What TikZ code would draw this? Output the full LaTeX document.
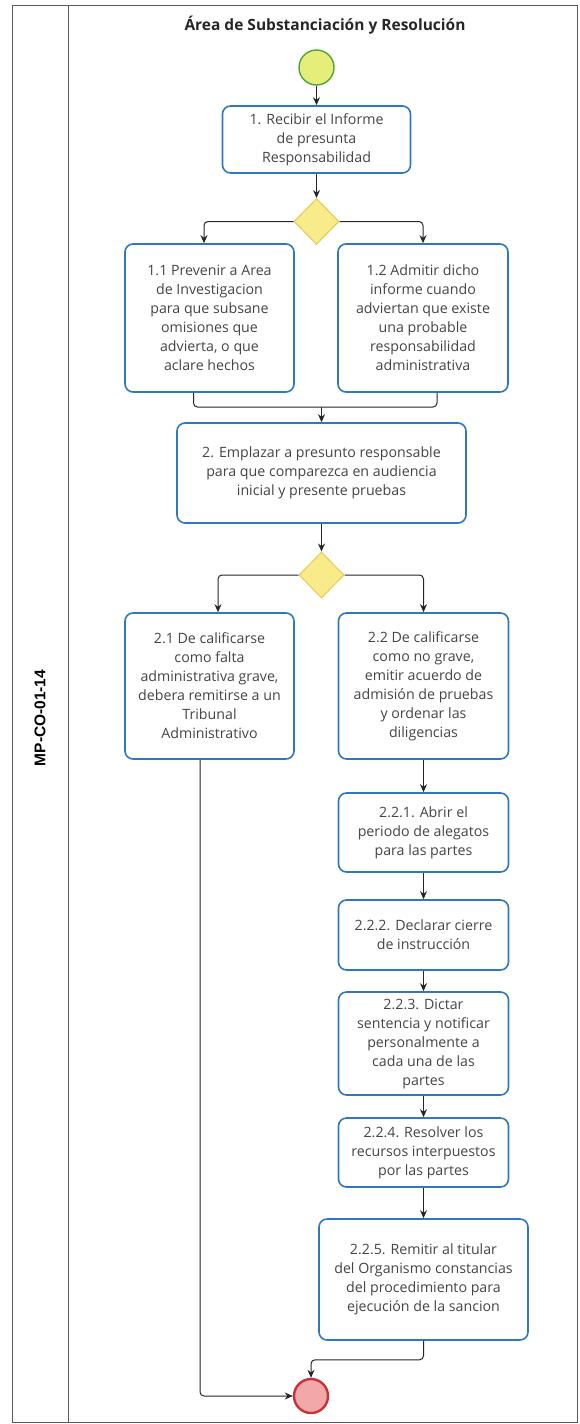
\documentclass[tikz,border=0pt]{standalone}
\usepackage{fontspec}
\setmainfont{Open Sans}
\newfontfamily\codefont{Liberation Sans}
\usetikzlibrary{arrows.meta,shapes.geometric}
\definecolor{boxblue}{HTML}{2F78C0}
\definecolor{txtgray}{HTML}{454545}
\definecolor{gatefill}{HTML}{F7EB8A}
\definecolor{gateedge}{HTML}{E2CB52}
\definecolor{startfill}{HTML}{E4EE78}
\definecolor{startedge}{HTML}{4FA33A}
\definecolor{endfill}{HTML}{F2A8A8}
\definecolor{endedge}{HTML}{C8323A}
\definecolor{framegray}{HTML}{5A5A5A}
\begin{document}
\begin{tikzpicture}[x=1pt,y=-1pt,
  box/.style={draw=boxblue, line width=1.6pt, rounded corners=8pt, fill=white,
    align=center, text=txtgray, inner sep=0pt, font=\fontsize{14.2}{19}\selectfont},
  gate/.style={diamond, draw=gateedge, fill=gatefill, line width=1pt,
    minimum width=45pt, minimum height=46pt, inner sep=0pt},
  startev/.style={circle, draw=startedge, fill=startfill, line width=1.4pt,
    minimum size=35pt, inner sep=0pt},
  endev/.style={circle, draw=endedge, fill=endfill, line width=2.4pt,
    minimum size=34pt, inner sep=0pt},
  flow/.style={draw=black!85, line width=1pt, rounded corners=4pt,
    -{Stealth[length=8pt,width=7pt]}},
  link/.style={draw=black!85, line width=1pt, rounded corners=4pt}]
  \useasboundingbox (0,0) rectangle (579,1424);
  % frame and lane
  \draw[framegray, line width=0.8pt] (12,5) rectangle (577,1422);
  \draw[framegray, line width=0.8pt] (68,5) -- (68,1422);
  \node[font=\bfseries\fontsize{15.5}{18}\selectfont, text=black!85] (titulo) at (325,25) {Área de Substanciación y Resolución};
  \node[rotate=90, font=\codefont\bfseries\fontsize{15.5}{18}\selectfont] (codigo) at (40,718) {MP-CO-01-14};
  % events and gateways
  \node[startev] (inicio) at (316.5,67.5) {};
  \node[gate] (gate1) at (316.5,221.5) {};
  \node[gate] (gate2) at (321.5,575) {};
  \node[endev] (fin) at (311,1396) {};
  % tasks
  \node[box, minimum width=188pt, minimum height=67pt] (recibir) at (316.5,139.5) {1. Recibir el Informe\\de presunta\\Responsabilidad};
  \node[box, minimum width=169pt, minimum height=148pt] (prevenir) at (209.5,318) {1.1 Prevenir a Area\\de Investigacion\\para que subsane\\omisiones que\\advierta, o que\\aclare hechos};
  \node[box, minimum width=170pt, minimum height=148pt] (admitir) at (423,318) {1.2 Admitir dicho\\informe cuando\\adviertan que existe\\una probable\\responsabilidad\\administrativa};
  \node[box, minimum width=289pt, minimum height=100pt] (emplazar) at (321.5,473) {2. Emplazar a presunto responsable\\para que comparezca en audiencia\\inicial y presente pruebas};
  \node[box, minimum width=169pt, minimum height=146pt] (grave) at (209.5,686) {2.1 De calificarse\\como falta\\administrativa grave,\\debera remitirse a un\\Tribunal\\Administrativo};
  \node[box, minimum width=170pt, minimum height=146pt] (nograve) at (423.5,686) {2.2 De calificarse\\como no grave,\\emitir acuerdo de\\admisión de pruebas\\y ordenar las\\diligencias};
  \node[box, minimum width=170pt, minimum height=79pt] (alegatos) at (423.5,832.5) {2.2.1. Abrir el\\periodo de alegatos\\para las partes};
  \node[box, minimum width=170pt, minimum height=70pt] (cierre) at (423.5,935) {2.2.2. Declarar cierre\\de instrucción};
  \node[box, minimum width=170pt, minimum height=103pt] (sentencia) at (423.5,1043.5) {2.2.3. Dictar\\sentencia y notificar\\personalmente a\\cada una de las\\partes};
  \node[box, minimum width=170pt, minimum height=69pt] (recursos) at (423.5,1152.5) {2.2.4. Resolver los\\recursos interpuestos\\por las partes};
  \node[box, minimum width=209pt, minimum height=121pt] (remitir) at (423.5,1279.5) {2.2.5. Remitir al titular\\del Organismo constancias\\del procedimiento para\\ejecución de la sancion};
  \coordinate (union) at (321.5,407);
  % flows
  \draw[flow] (inicio) -- (recibir);
  \draw[flow] (recibir) -- (gate1);
  \draw[flow] (gate1.west) -| ([xshift=-5.5pt]prevenir.north);
  \draw[flow] (gate1.east) -| (admitir.north);
  \draw[link] ([xshift=-16pt]prevenir.south) |- (union);
  \draw[link] ([xshift=14pt]admitir.south) |- (union);
  \draw[flow] (union) -- (emplazar.north);
  \draw[flow] (emplazar) -- (gate2);
  \draw[flow] (gate2.west) -| ([xshift=8.5pt]grave.north);
  \draw[flow] (gate2.east) -| (nograve.north);
  \draw[flow] (nograve) -- (alegatos);
  \draw[flow] (alegatos) -- (cierre);
  \draw[flow] (cierre) -- (sentencia);
  \draw[flow] (sentencia) -- (recursos);
  \draw[flow] (recursos) -- (remitir);
  \draw[flow] (remitir.south) -- ++(0,19) -| (fin.north);
  \draw[flow] ([xshift=-9.5pt]grave.south) |- (fin.west);
\end{tikzpicture}
\end{document}
